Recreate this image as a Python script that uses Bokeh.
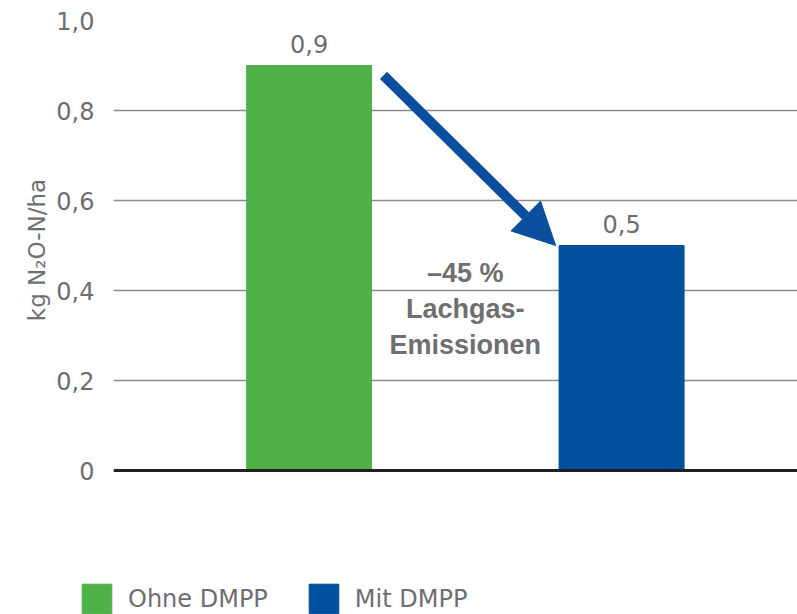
from bokeh.plotting import figure
from bokeh.layouts import column
from bokeh.models import (ColumnDataSource, Range1d, FixedTicker, CustomJSTickFormatter,
                          Span, Arrow, NormalHead, LabelSet)
from bokeh.core.properties import value
from bokeh.embed import file_html
from bokeh.resources import INLINE

# ---- data ----
categories = ["Ohne DMPP", "Mit DMPP"]
values = [0.9, 0.5]
positions = [1, 2]
bar_colors = ["#4db148", "#00509e"]
y_ticks = [0, 0.2, 0.4, 0.6, 0.8, 1.0]
annotation_text = "\u201345 %\nLachgas-\nEmissionen"
axis_title = "kg N\u2082O-N/ha"

labels = [f"{v:.1f}".replace(".", ",") for v in values]
BAR_W = 0.4
GRAY = "#6d6e71"

src = ColumnDataSource(dict(x=positions, top=values, color=bar_colors,
                            cat=categories, lab=labels))

p = figure(width=797, height=570, output_backend="svg", toolbar_location=None,
           x_range=Range1d(0.374, 2.563), y_range=Range1d(-0.02, 1.0),
           x_axis_type=None, min_border_left=113, min_border_right=0,
           min_border_top=20, min_border_bottom=91)
p.frame_align = False
p.outline_line_color = None
p.background_fill_color = "white"
p.border_fill_color = "white"

# axis
ax = p.yaxis[0]
ax.ticker = FixedTicker(ticks=y_ticks)
ax.formatter = CustomJSTickFormatter(code='return tick == 0 ? "0" : tick.toFixed(1).replace(".", ",");')
ax.axis_line_color = None
ax.major_tick_line_color = None
ax.minor_tick_line_color = None
ax.major_label_standoff = 13
ax.major_label_text_font = "DejaVu Sans"
ax.major_label_text_font_size = "24px"
ax.major_label_text_color = GRAY
ax.axis_label = axis_title
ax.axis_label_text_font = "DejaVu Sans"
ax.axis_label_text_font_size = "23px"
ax.axis_label_text_font_style = "normal"
ax.axis_label_text_color = GRAY
ax.axis_label_standoff = 3

p.xgrid.visible = False
p.ygrid.ticker = FixedTicker(ticks=y_ticks)
p.ygrid.grid_line_color = "#8a8a8a"
p.ygrid.grid_line_width = 1.4

# bars
p.vbar(x="x", top="top", width=BAR_W, bottom=0, color="color", source=src)

# zero line
p.add_layout(Span(location=0, dimension="width", line_color="#231f20", line_width=3))

# value labels
p.add_layout(LabelSet(x="x", y="top", text="lab", source=src, text_align="center",
                      text_baseline="alphabetic", y_offset=13, text_font=value("DejaVu Sans"),
                      text_font_size=value("24px"), text_color=value(GRAY)))

# arrow
arrow_color = "#0a4f9e"
p.add_layout(Arrow(end=NormalHead(size=42, fill_color=arrow_color, line_color=arrow_color),
                   x_start=positions[0] + BAR_W / 2 + 0.038, y_start=values[0] - 0.022,
                   x_end=positions[1] - BAR_W / 2 - 0.011, y_end=values[1],
                   line_color=arrow_color, line_width=10))

# annotation
p.text(x=[sum(positions) / 2], y=[0.358], text=[annotation_text], text_align="center",
       text_baseline="middle", text_font=value("Liberation Sans"), text_font_style="bold",
       text_font_size="27px", text_color="#6f6f6f", text_line_height=1.2)

# legend strip (separate figure, bars out of view, legend only)
p2 = figure(width=797, height=44, output_backend="svg", toolbar_location=None,
            x_range=Range1d(10, 11), y_range=Range1d(10, 11),
            x_axis_type=None, y_axis_type=None, min_border=0)
p2.frame_align = False
p2.outline_line_color = None
p2.xgrid.visible = False
p2.ygrid.visible = False
p2.vbar(x="x", top="top", width=BAR_W, bottom=0, color="color", source=src,
        legend_field="cat")
leg = p2.legend[0]
leg.location = (78, -3)
leg.orientation = "horizontal"
leg.glyph_width = 37
leg.glyph_height = 37
leg.label_standoff = 13
leg.spacing = 37
leg.padding = 0
leg.margin = 0
leg.border_line_color = None
leg.background_fill_alpha = 0
leg.label_text_font = "DejaVu Sans"
leg.label_text_font_size = "24px"
leg.label_text_color = GRAY

layout = column(p, p2, spacing=0)
open("out.html", "w").write(file_html(layout, INLINE))
